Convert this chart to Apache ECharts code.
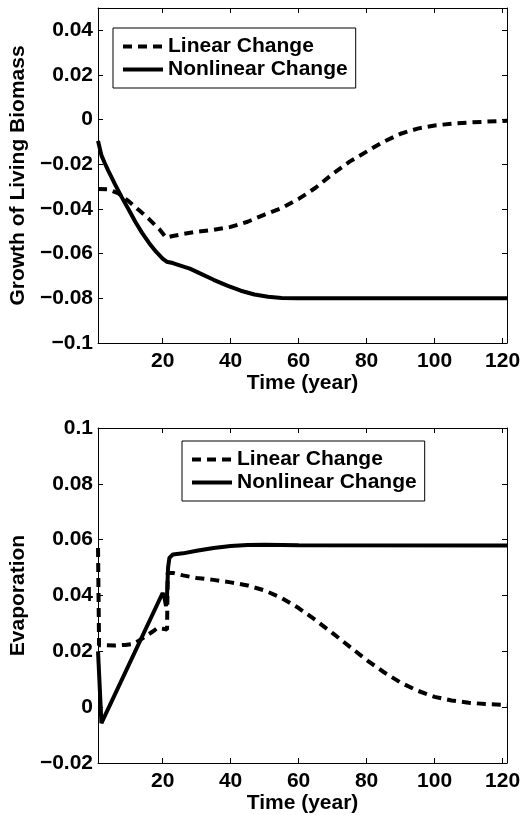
<!DOCTYPE html>
<html>
<head>
<meta charset="utf-8">
<title>Biomass and Evaporation</title>
<script src="https://cdn.jsdelivr.net/npm/echarts@6/dist/echarts.min.js"></script>
<style>
  html, body { margin: 0; padding: 0; background: #fff; }
  #chart { width: 525px; height: 815px; }
</style>
</head>
<body>
<div id="chart"></div>
<script>
// series names
var seriesNames = ['Linear Change', 'Nonlinear Change'];

// x ticks (years)
var xTicks = [20, 40, 60, 80, 100, 120];
var bioTicks = [-0.1, -0.08, -0.06, -0.04, -0.02, 0, 0.02, 0.04];
var evapTicks = [-0.02, 0, 0.02, 0.04, 0.06, 0.08, 0.1];

// growth of living biomass - linear change
var bioLinYears = [1, 4, 7, 10, 13, 16, 19, 21, 23, 26, 30, 35, 40, 45, 50, 55, 60, 65, 70, 75, 80, 85, 90, 95, 100, 105, 110, 115, 121.3];
var bioLinValues = [-0.031, -0.0312, -0.033, -0.0365, -0.0405, -0.0445, -0.049, -0.0528, -0.0521, -0.0512, -0.0502, -0.0493, -0.048, -0.0457, -0.0425, -0.0396, -0.0355, -0.0305, -0.0243, -0.0188, -0.0143, -0.0099, -0.0063, -0.004, -0.0026, -0.0018, -0.0013, -0.0009, -0.0005];

// growth of living biomass - nonlinear change
var bioNonYears = [1, 2, 3, 4, 6, 8, 10, 12, 14, 16, 18, 20, 21.2, 23, 25, 28, 31, 35, 39, 43, 47, 51, 55, 60, 121.3];
var bioNonValues = [-0.0095, -0.016, -0.0195, -0.0228, -0.029, -0.0348, -0.0402, -0.0458, -0.0508, -0.0552, -0.059, -0.0622, -0.0636, -0.0642, -0.0652, -0.0667, -0.0688, -0.0717, -0.0743, -0.0766, -0.0783, -0.0793, -0.0798, -0.08, -0.08];

// evaporation - linear change
var evapLinYears = [1, 1.3, 3, 6, 9, 11, 13, 15, 17, 18.5, 20, 21.3, 21.5, 23, 26, 30, 35, 40, 45, 50, 55, 60, 65, 70, 75, 80, 85, 90, 95, 100, 105, 110, 115, 121.3];
var evapLinValues = [0.057, 0.0222, 0.0222, 0.0221, 0.0223, 0.0226, 0.0238, 0.0254, 0.027, 0.0284, 0.0281, 0.0278, 0.0481, 0.0481, 0.0472, 0.0463, 0.0456, 0.0447, 0.0436, 0.0418, 0.0391, 0.0355, 0.0312, 0.0265, 0.0217, 0.0169, 0.0126, 0.0088, 0.0059, 0.0037, 0.0024, 0.0016, 0.0011, 0.0008];

// evaporation - nonlinear change
var evapNonYears = [1, 2, 20, 20.5, 21, 21.3, 21.6, 22, 23, 26, 30, 35, 40, 45, 50, 60, 121.3];
var evapNonValues = [0.02, -0.0057, 0.0409, 0.0395, 0.0362, 0.04, 0.05, 0.0535, 0.0547, 0.0551, 0.056, 0.057, 0.0577, 0.0581, 0.0582, 0.058, 0.0579];

var font = { fontFamily: 'Liberation Sans', fontWeight: 'bold', fontSize: 21, color: '#000' };

function pairs(xs, ys) {
    return xs.map(function (x, i) { return [x, ys[i]]; });
}

function tickText(v) {
    var s = String(+Math.abs(v).toFixed(2));
    return v < -1e-9 ? '\u2212' + s : s;
}

var black = { color: '#000', width: 1 };

function xAxes(gi) {
    return [{
        type: 'value', gridIndex: gi, position: 'bottom', min: 1, max: 121.3,
        axisLine: { show: true, onZero: false, lineStyle: black },
        axisTick: { inside: true, length: 5, customValues: xTicks, lineStyle: black },
        axisLabel: Object.assign({ customValues: xTicks, margin: 8, formatter: tickText }, font),
        splitLine: { show: false },
        name: 'Time (year)', nameLocation: 'middle', nameGap: 27,
        nameTextStyle: font
    }, {
        type: 'value', gridIndex: gi, position: 'top', min: 1, max: 121.3,
        axisLine: { show: true, onZero: false, lineStyle: black },
        axisTick: { inside: true, length: 5, customValues: xTicks, lineStyle: black },
        axisLabel: { show: false },
        splitLine: { show: false }
    }];
}

function yAxes(gi, min, max, ticks, name) {
    return [{
        type: 'value', gridIndex: gi, position: 'left', min: min, max: max,
        axisLine: { show: true, onZero: false, lineStyle: black },
        axisTick: { inside: true, length: 5, customValues: ticks, lineStyle: black },
        axisLabel: Object.assign({ customValues: ticks, margin: 5, formatter: tickText }, font),
        splitLine: { show: false },
        name: name, nameLocation: 'middle', nameGap: 60,
        nameTextStyle: font
    }, {
        type: 'value', gridIndex: gi, position: 'right', min: min, max: max,
        axisLine: { show: true, onZero: false, lineStyle: black },
        axisTick: { inside: true, length: 5, customValues: ticks, lineStyle: black },
        axisLabel: { show: false },
        splitLine: { show: false }
    }];
}

function line(name, dashed, axisIdx, data) {
    return {
        name: name, type: 'line', xAxisIndex: axisIdx, yAxisIndex: axisIdx,
        data: data, showSymbol: false, symbol: 'none', animation: false,
        lineStyle: { color: '#000', width: 4, type: dashed ? [9, 6] : 'solid' },
        itemStyle: { color: '#000' }
    };
}

function legendAt(left, top) {
    return {
        data: seriesNames, left: left, top: top, orient: 'vertical',
        padding: 8, itemGap: 2, itemWidth: 40, itemHeight: 14,
        borderColor: '#000', borderWidth: 1, backgroundColor: '#fff',
        // hide the marker dot, keep only the line sample
        itemStyle: { opacity: 0 },
        lineStyle: { width: 4, opacity: 1 },
        selectedMode: false, textStyle: font
    };
}

var chart = echarts.init(document.getElementById('chart'));
chart.setOption({
    animation: false,
    grid: [
        { left: 95, top: 8, width: 412, height: 335 },
        { left: 95, top: 428, width: 412, height: 335 }
    ],
    xAxis: xAxes(0).concat(xAxes(1)),
    yAxis: yAxes(0, -0.1, 0.05, bioTicks, 'Growth of Living Biomass')
        .concat(yAxes(1, -0.02, 0.1, evapTicks, 'Evaporation')),
    legend: [legendAt(113, 28), legendAt(182, 441)],
    series: [
        line(seriesNames[0], true, 0, pairs(bioLinYears, bioLinValues)),
        line(seriesNames[1], false, 0, pairs(bioNonYears, bioNonValues)),
        line(seriesNames[0], true, 2, pairs(evapLinYears, evapLinValues)),
        line(seriesNames[1], false, 2, pairs(evapNonYears, evapNonValues))
    ]
});
</script>
</body>
</html>
